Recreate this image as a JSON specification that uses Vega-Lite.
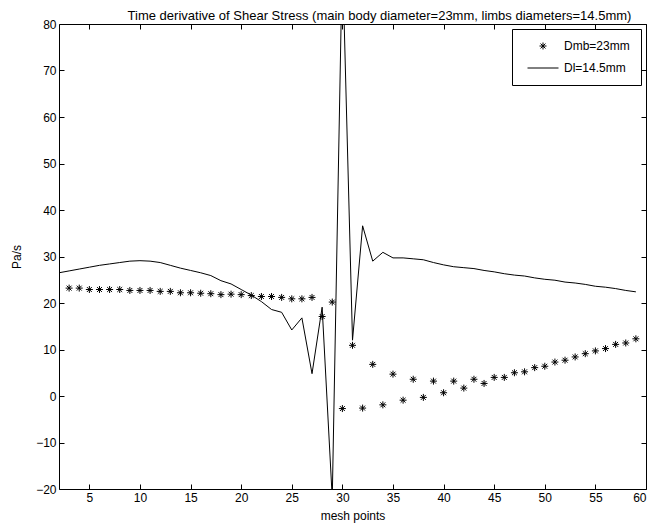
{
  "$schema": "https://vega.github.io/schema/vega-lite/v6.json",
  "autosize": "none",
  "width": 587,
  "height": 465,
  "padding": {"left": 59, "top": 24, "right": 8, "bottom": 38},
  "background": "white",
  "config": {
    "font": "Liberation Sans",
    "view": {"stroke": "black", "strokeWidth": 1},
    "axis": {"grid": false, "domain": false, "tickColor": "black", "labelColor": "black", "titleColor": "black", "labelFont": "Liberation Sans", "titleFont": "Liberation Sans", "labelFontSize": 12, "titleFontSize": 12, "titleFontWeight": "normal", "tickSize": -5, "labelPadding": 8},
    "legend": {"labelFont": "Liberation Sans", "labelFontSize": 12, "labelColor": "black"}
  },
  "title": {"text": "Time derivative of Shear Stress (main body diameter=23mm, limbs diameters=14.5mm)", "fontSize": 13, "fontWeight": "normal", "font": "Liberation Sans", "color": "black", "anchor": "middle", "offset": -5, "dx": 27},
  "data": {"values": [
    {"x": 3, "v": 23.2, "s": "Dmb=23mm"}, {"x": 4, "v": 23.2, "s": "Dmb=23mm"}, {"x": 5, "v": 22.9, "s": "Dmb=23mm"}, {"x": 6, "v": 22.9, "s": "Dmb=23mm"}, {"x": 7, "v": 22.9, "s": "Dmb=23mm"}, {"x": 8, "v": 22.9, "s": "Dmb=23mm"}, {"x": 9, "v": 22.7, "s": "Dmb=23mm"}, {"x": 10, "v": 22.7, "s": "Dmb=23mm"}, {"x": 11, "v": 22.7, "s": "Dmb=23mm"}, {"x": 12, "v": 22.5, "s": "Dmb=23mm"}, {"x": 13, "v": 22.5, "s": "Dmb=23mm"}, {"x": 14, "v": 22.2, "s": "Dmb=23mm"}, {"x": 15, "v": 22.2, "s": "Dmb=23mm"}, {"x": 16, "v": 22.1, "s": "Dmb=23mm"}, {"x": 17, "v": 22.0, "s": "Dmb=23mm"}, {"x": 18, "v": 21.8, "s": "Dmb=23mm"}, {"x": 19, "v": 21.9, "s": "Dmb=23mm"}, {"x": 20, "v": 21.8, "s": "Dmb=23mm"}, {"x": 21, "v": 21.6, "s": "Dmb=23mm"}, {"x": 22, "v": 21.4, "s": "Dmb=23mm"}, {"x": 23, "v": 21.4, "s": "Dmb=23mm"}, {"x": 24, "v": 21.2, "s": "Dmb=23mm"}, {"x": 25, "v": 20.9, "s": "Dmb=23mm"}, {"x": 26, "v": 20.9, "s": "Dmb=23mm"}, {"x": 27, "v": 21.2, "s": "Dmb=23mm"}, {"x": 28, "v": 17.1, "s": "Dmb=23mm"}, {"x": 29, "v": 20.2, "s": "Dmb=23mm"}, {"x": 30, "v": -2.7, "s": "Dmb=23mm"}, {"x": 31, "v": 10.9, "s": "Dmb=23mm"}, {"x": 32, "v": -2.6, "s": "Dmb=23mm"}, {"x": 33, "v": 6.8, "s": "Dmb=23mm"}, {"x": 34, "v": -1.9, "s": "Dmb=23mm"}, {"x": 35, "v": 4.7, "s": "Dmb=23mm"}, {"x": 36, "v": -0.9, "s": "Dmb=23mm"}, {"x": 37, "v": 3.6, "s": "Dmb=23mm"}, {"x": 38, "v": -0.3, "s": "Dmb=23mm"}, {"x": 39, "v": 3.2, "s": "Dmb=23mm"}, {"x": 40, "v": 0.7, "s": "Dmb=23mm"}, {"x": 41, "v": 3.2, "s": "Dmb=23mm"}, {"x": 42, "v": 1.7, "s": "Dmb=23mm"}, {"x": 43, "v": 3.6, "s": "Dmb=23mm"}, {"x": 44, "v": 2.7, "s": "Dmb=23mm"}, {"x": 45, "v": 4.0, "s": "Dmb=23mm"}, {"x": 46, "v": 4.0, "s": "Dmb=23mm"}, {"x": 47, "v": 5.0, "s": "Dmb=23mm"}, {"x": 48, "v": 5.2, "s": "Dmb=23mm"}, {"x": 49, "v": 6.1, "s": "Dmb=23mm"}, {"x": 50, "v": 6.4, "s": "Dmb=23mm"}, {"x": 51, "v": 7.3, "s": "Dmb=23mm"}, {"x": 52, "v": 7.7, "s": "Dmb=23mm"}, {"x": 53, "v": 8.4, "s": "Dmb=23mm"}, {"x": 54, "v": 9.1, "s": "Dmb=23mm"}, {"x": 55, "v": 9.7, "s": "Dmb=23mm"}, {"x": 56, "v": 10.2, "s": "Dmb=23mm"}, {"x": 57, "v": 11.1, "s": "Dmb=23mm"}, {"x": 58, "v": 11.4, "s": "Dmb=23mm"}, {"x": 59, "v": 12.3, "s": "Dmb=23mm"},
    {"x": 2, "v": 26.5, "s": "Dl=14.5mm"}, {"x": 3, "v": 26.9, "s": "Dl=14.5mm"}, {"x": 4, "v": 27.3, "s": "Dl=14.5mm"}, {"x": 5, "v": 27.7, "s": "Dl=14.5mm"}, {"x": 6, "v": 28.1, "s": "Dl=14.5mm"}, {"x": 7, "v": 28.4, "s": "Dl=14.5mm"}, {"x": 8, "v": 28.7, "s": "Dl=14.5mm"}, {"x": 9, "v": 29.0, "s": "Dl=14.5mm"}, {"x": 10, "v": 29.1, "s": "Dl=14.5mm"}, {"x": 11, "v": 29.0, "s": "Dl=14.5mm"}, {"x": 12, "v": 28.7, "s": "Dl=14.5mm"}, {"x": 13, "v": 28.1, "s": "Dl=14.5mm"}, {"x": 14, "v": 27.5, "s": "Dl=14.5mm"}, {"x": 15, "v": 27.0, "s": "Dl=14.5mm"}, {"x": 16, "v": 26.5, "s": "Dl=14.5mm"}, {"x": 17, "v": 25.9, "s": "Dl=14.5mm"}, {"x": 18, "v": 24.8, "s": "Dl=14.5mm"}, {"x": 19, "v": 24.1, "s": "Dl=14.5mm"}, {"x": 20, "v": 22.9, "s": "Dl=14.5mm"}, {"x": 21, "v": 21.7, "s": "Dl=14.5mm"}, {"x": 22, "v": 20.3, "s": "Dl=14.5mm"}, {"x": 23, "v": 18.6, "s": "Dl=14.5mm"}, {"x": 24, "v": 18.0, "s": "Dl=14.5mm"}, {"x": 25, "v": 14.2, "s": "Dl=14.5mm"}, {"x": 26, "v": 16.8, "s": "Dl=14.5mm"}, {"x": 27, "v": 4.8, "s": "Dl=14.5mm"}, {"x": 28, "v": 19.1, "s": "Dl=14.5mm"}, {"x": 29, "v": -22, "s": "Dl=14.5mm"}, {"x": 30, "v": 95, "s": "Dl=14.5mm"}, {"x": 31, "v": 12.0, "s": "Dl=14.5mm"}, {"x": 32, "v": 36.6, "s": "Dl=14.5mm"}, {"x": 33, "v": 29.0, "s": "Dl=14.5mm"}, {"x": 34, "v": 30.9, "s": "Dl=14.5mm"}, {"x": 35, "v": 29.7, "s": "Dl=14.5mm"}, {"x": 36, "v": 29.7, "s": "Dl=14.5mm"}, {"x": 37, "v": 29.5, "s": "Dl=14.5mm"}, {"x": 38, "v": 29.3, "s": "Dl=14.5mm"}, {"x": 39, "v": 28.7, "s": "Dl=14.5mm"}, {"x": 40, "v": 28.2, "s": "Dl=14.5mm"}, {"x": 41, "v": 27.8, "s": "Dl=14.5mm"}, {"x": 42, "v": 27.6, "s": "Dl=14.5mm"}, {"x": 43, "v": 27.4, "s": "Dl=14.5mm"}, {"x": 44, "v": 27.0, "s": "Dl=14.5mm"}, {"x": 45, "v": 26.7, "s": "Dl=14.5mm"}, {"x": 46, "v": 26.3, "s": "Dl=14.5mm"}, {"x": 47, "v": 26.0, "s": "Dl=14.5mm"}, {"x": 48, "v": 25.8, "s": "Dl=14.5mm"}, {"x": 49, "v": 25.4, "s": "Dl=14.5mm"}, {"x": 50, "v": 25.1, "s": "Dl=14.5mm"}, {"x": 51, "v": 24.9, "s": "Dl=14.5mm"}, {"x": 52, "v": 24.5, "s": "Dl=14.5mm"}, {"x": 53, "v": 24.3, "s": "Dl=14.5mm"}, {"x": 54, "v": 24.0, "s": "Dl=14.5mm"}, {"x": 55, "v": 23.6, "s": "Dl=14.5mm"}, {"x": 56, "v": 23.4, "s": "Dl=14.5mm"}, {"x": 57, "v": 23.1, "s": "Dl=14.5mm"}, {"x": 58, "v": 22.7, "s": "Dl=14.5mm"}, {"x": 59, "v": 22.4, "s": "Dl=14.5mm"}
  ]},
  "resolve": {"axis": {"x": "independent", "y": "independent"}},
  "layer": [
    {
      "transform": [{"filter": "datum.s === 'Dmb=23mm'"}],
      "mark": {"type": "point", "filled": false, "stroke": "black", "strokeWidth": 1, "opacity": 1, "clip": true},
      "encoding": {
        "x": {"field": "x", "type": "quantitative", "scale": {"domain": [2, 60], "nice": false, "zero": false}, "axis": {"orient": "bottom", "values": [5, 10, 15, 20, 25, 30, 35, 40, 45, 50, 55, 60], "title": "mesh points", "titlePadding": 7}},
        "y": {"field": "v", "type": "quantitative", "scale": {"domain": [-20, 80], "nice": false, "zero": false}, "axis": {"orient": "left", "values": [-20, -10, 0, 10, 20, 30, 40, 50, 60, 70, 80], "title": "Pa/s", "titlePadding": 12, "labelExpr": "replace(datum.label, '-', '\u2212')"}},
        "shape": {"field": "s", "type": "nominal", "scale": {"domain": ["Dmb=23mm", "Dl=14.5mm"], "range": ["M-1,0L1,0M0,-1L0,1M-0.7,-0.7L0.7,0.7M-0.7,0.7L0.7,-0.7", "stroke"]}, "legend": {"title": null, "orient": "top-right", "offset": 5, "strokeColor": "black", "fillColor": "white", "padding": 11, "symbolOffset": 4, "symbolStrokeColor": "black", "symbolFillColor": "transparent", "symbolStrokeWidth": 1, "labelOffset": 5, "rowPadding": -3, "cornerRadius": 0}},
        "size": {"field": "s", "type": "nominal", "scale": {"domain": ["Dmb=23mm", "Dl=14.5mm"], "range": [49, 961]}, "legend": {"title": null, "orient": "top-right", "offset": 5, "strokeColor": "black", "fillColor": "white", "padding": 11, "symbolOffset": 4, "symbolStrokeColor": "black", "symbolFillColor": "transparent", "symbolStrokeWidth": 1, "labelOffset": 5, "rowPadding": -3, "cornerRadius": 0}}
      }
    },
    {
      "transform": [{"filter": "datum.s === 'Dl=14.5mm'"}],
      "mark": {"type": "line", "color": "black", "strokeWidth": 1, "clip": true},
      "encoding": {
        "x": {"field": "x", "type": "quantitative", "axis": {"orient": "top", "values": [5, 10, 15, 20, 25, 30, 35, 40, 45, 50, 55, 60], "labels": false, "title": null}},
        "y": {"field": "v", "type": "quantitative", "axis": {"orient": "right", "values": [-20, -10, 0, 10, 20, 30, 40, 50, 60, 70, 80], "labels": false, "title": null}}
      }
    }
  ]
}
